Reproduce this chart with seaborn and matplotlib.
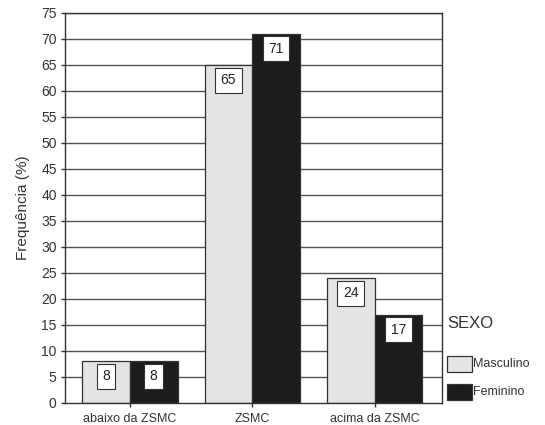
import numpy as np
import pandas as pd
import matplotlib.pyplot as plt
import seaborn as sns

categories = ["abaixo da ZSMC", "ZSMC", "acima da ZSMC"]
masculino = [8, 65, 24]
feminino = [8, 71, 17]
sexo = ["Masculino", "Feminino"]


def main() -> None:
    df = pd.DataFrame({
        "categoria": categories * 2,
        "SEXO": [sexo[0]] * 3 + [sexo[1]] * 3,
        "freq": masculino + feminino,
    })

    sns.set_style("white")
    plt.rcParams["font.family"] = ["Liberation Sans", "DejaVu Sans"]

    fig = plt.figure(figsize=(5.45, 4.25), dpi=100)
    ax = fig.add_axes([65 / 545, 22 / 425, 377 / 545, 390 / 425])

    # grade horizontal
    for y in range(5, 80, 5):
        ax.axhline(y, color="#555555", lw=1.0, zorder=0)

    palette = {"Masculino": "#e4e4e4", "Feminino": "#1c1c1c"}
    sns.barplot(
        data=df, x="categoria", y="freq", hue="SEXO",
        order=categories, hue_order=sexo, palette=palette,
        width=0.78, edgecolor="#333333", linewidth=0.9,
        saturation=1, ax=ax, zorder=2, legend=False,
    )

    # rótulos dos valores
    for cont in ax.containers:
        for bar in cont:
            h = bar.get_height()
            ax.text(
                bar.get_x() + bar.get_width() / 2, h - 2.9, f"{int(h)}",
                ha="center", va="center", fontsize=10, color="#222222", zorder=4,
                bbox=dict(boxstyle="square,pad=0.4", fc="white", ec="#333333", lw=0.8),
            )

    ax.set_ylim(0, 75)
    ax.set_xlim(-0.53, 2.55)
    ax.set_yticks(range(0, 80, 5))
    ax.tick_params(axis="y", direction="out", length=3, width=1, labelsize=10, colors="#333333", pad=3)
    ax.tick_params(axis="x", direction="out", length=3, width=1, labelsize=9, colors="#333333", pad=4)
    ax.tick_params(left=True, bottom=True)
    ax.set_xlabel("")
    ax.set_ylabel("Frequência (%)", fontsize=11, color="#333333", labelpad=8)
    for s in ax.spines.values():
        s.set_visible(True)
        s.set_color("#333333")
        s.set_linewidth(1.0)

    # legenda
    fig.text(447 / 545, 1 - 323 / 425, "SEXO", fontsize=12, color="#333333", va="center")
    items = [("Masculino", 364), ("Feminino", 392)]
    for name, yc in items:
        rect = plt.Rectangle((447 / 545, 1 - (yc + 8) / 425), 25 / 545, 16 / 425,
                             transform=fig.transFigure, fc=palette[name], ec="#333333", lw=0.9)
        fig.patches.append(rect)
        fig.text(473 / 545, 1 - yc / 425, name, fontsize=9, color="#333333", va="center")

    fig.savefig("out.png", dpi=100)


if __name__ == "__main__":
    main()
